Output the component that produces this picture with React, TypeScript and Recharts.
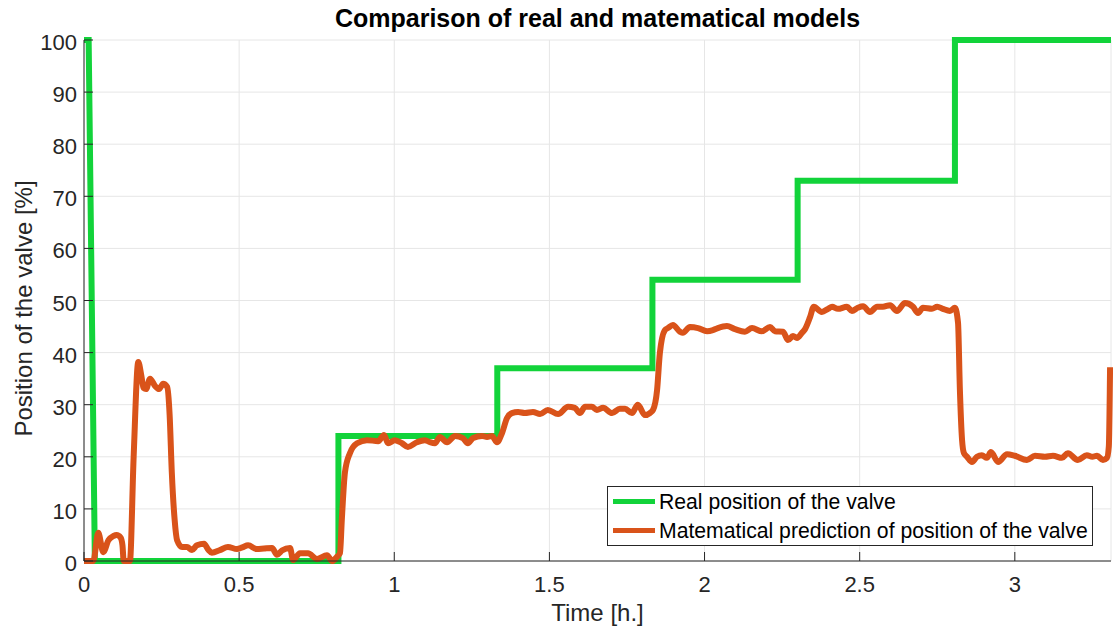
import { CartesianGrid, Legend, Line, LineChart, XAxis, YAxis } from 'recharts'

// Measured valve position (step profile), time in hours
const realTime = [0, 0.015, 0.035, 0.82, 0.82, 1.332, 1.332, 1.832, 1.832, 2.3, 2.3, 2.807, 2.807, 3.31]
const realPosition = [100, 100, 0, 0, 24, 24, 37, 37, 54, 54, 73, 73, 100, 100]

// Model output for the same run
const modelTime = [
  0, 0.03, 0.046, 0.062, 0.079, 0.095, 0.105, 0.118, 0.124, 0.128, 0.148, 0.16, 0.175, 0.185, 0.192, 0.2,
  0.213, 0.229, 0.242, 0.255, 0.268, 0.276, 0.283, 0.292, 0.3, 0.316, 0.332, 0.348, 0.364, 0.387, 0.4,
  0.412, 0.438, 0.464, 0.493, 0.51, 0.529, 0.557, 0.58, 0.606, 0.622, 0.638, 0.664, 0.674, 0.696, 0.722,
  0.751, 0.783, 0.8, 0.815, 0.825, 0.831, 0.841, 0.857, 0.88, 0.912, 0.948, 0.967, 0.98, 1.002, 1.025,
  1.044, 1.073, 1.099, 1.115, 1.131, 1.147, 1.17, 1.196, 1.221, 1.237, 1.254, 1.283, 1.299, 1.315, 1.331,
  1.347, 1.363, 1.379, 1.399, 1.421, 1.447, 1.47, 1.495, 1.528, 1.56, 1.582, 1.598, 1.615, 1.637, 1.653,
  1.673, 1.702, 1.727, 1.744, 1.766, 1.785, 1.808, 1.824, 1.834, 1.847, 1.856, 1.872, 1.882, 1.898, 1.921,
  1.93, 1.953, 1.979, 2.008, 2.027, 2.043, 2.072, 2.098, 2.13, 2.153, 2.185, 2.211, 2.227, 2.253, 2.269,
  2.285, 2.298, 2.314, 2.324, 2.34, 2.352, 2.378, 2.398, 2.411, 2.43, 2.459, 2.475, 2.494, 2.511, 2.533,
  2.556, 2.575, 2.598, 2.62, 2.646, 2.672, 2.688, 2.704, 2.733, 2.75, 2.768, 2.791, 2.807, 2.817, 2.823,
  2.83, 2.836, 2.846, 2.862, 2.878, 2.894, 2.91, 2.923, 2.946, 2.975, 3.0, 3.039, 3.065, 3.097, 3.123,
  3.152, 3.171, 3.203, 3.232, 3.25, 3.265, 3.284, 3.297, 3.303, 3.307,
]
const modelPosition = [
  0, 0, 5.4, 1.7, 4, 4.8, 5, 4.5, 3, 0, 0, 20, 38.2, 35.5, 33.2, 33,
  35, 33.6, 33, 34, 33.4, 28, 17, 8, 4, 2.7, 2.7, 2.1, 3, 3.3, 2.2,
  1.6, 2.1, 2.7, 2.3, 2.6, 3, 2.3, 2.4, 2.5, 1.2, 2, 2.5, 0.2, 1.5, 1.5,
  0.4, 1.1, 0, 0.8, 1.5, 8, 17, 20.7, 22.6, 23.2, 23, 24.2, 22.6, 23.2, 22.6,
  21.9, 22.8, 23.2, 22.8, 22.6, 23.8, 22.8, 24, 23.6, 22.6, 23.6, 24, 23.8, 24, 22.8,
  24.5, 27.4, 28.4, 28.6, 28.4, 28.6, 28.2, 29, 28.2, 29.6, 29.4, 28.4, 29.6, 29.6, 29,
  29.4, 28.4, 29.2, 29.2, 28.4, 30, 28, 28.4, 29, 32.8, 39.9, 44.3, 44.7, 45.3, 44,
  43.8, 44.9, 44.7, 44.1, 44.3, 44.7, 45.1, 44.5, 44, 44.7, 44.1, 44.9, 44.1, 44, 42.4,
  43.2, 42.8, 43.8, 44.5, 46.8, 48.8, 47.8, 48.4, 48.8, 48.4, 48.8, 48, 48.6, 48.9, 47.8,
  48.8, 48.8, 49.1, 48, 49.5, 48.8, 47.6, 48.6, 48.4, 48.8, 48.4, 48, 48.6, 45.7, 32.8,
  23.2, 20.7, 20, 19, 20, 20.3, 19.8, 20.9, 19, 20.5, 20.2, 19.4, 20.2, 20, 20.2,
  19.8, 20.7, 19.4, 20.3, 20, 20.2, 19.4, 19.8, 22, 37.2,
]

const timeTicks = [0, 0.5, 1, 1.5, 2, 2.5, 3]
const positionTicks = [0, 10, 20, 30, 40, 50, 60, 70, 80, 90, 100]
const timeDomain = [0, 3.31]

const REAL_NAME = 'Real position of the valve'
const MODEL_NAME = 'Matematical prediction of position of the valve'
const legendOrder = [REAL_NAME, MODEL_NAME]

const realSeries = realTime.map((t, i) => ({ t, v: realPosition[i] }))
const modelSeries = modelTime.map((t, i) => ({ t, v: modelPosition[i] }))

const AXIS = '#262626'
const TICK = 9
const FONT = '"Liberation Sans", Arial, Helvetica, sans-serif'

function BottomTick({ x, y, payload }: any) {
  return (
    <g>
      <line x1={x} y1={y} x2={x} y2={y - TICK} stroke={AXIS} />
      <text x={x} y={y + 31} textAnchor="middle" fill={AXIS} fontSize={22}>
        {payload.value}
      </text>
    </g>
  )
}

function LeftTick({ x, y, payload }: any) {
  return (
    <g>
      <line x1={x} y1={y} x2={x + TICK} y2={y} stroke={AXIS} />
      <text x={x - 7} y={y + 10} textAnchor="end" fill={AXIS} fontSize={22}>
        {payload.value}
      </text>
    </g>
  )
}

function TopTick({ x, y }: any) {
  return <line x1={x} y1={y} x2={x} y2={y + TICK} stroke={AXIS} />
}

function RightTick({ x, y }: any) {
  return <line x1={x} y1={y} x2={x - TICK} y2={y} stroke={AXIS} />
}

function ValveLegend({ payload }: any) {
  const items = [...(payload || [])].sort(
    (a: any, b: any) => legendOrder.indexOf(a.value) - legendOrder.indexOf(b.value),
  )
  return (
    <div
      style={{
        boxSizing: 'border-box',
        width: 486,
        height: 60,
        border: `1px solid ${AXIS}`,
        background: '#fff',
        padding: '0 0 0 5px',
        fontSize: 21.2,
        lineHeight: '29px',
        color: '#000',
        fontFamily: FONT,
        whiteSpace: 'nowrap',
      }}
    >
      {items.map((entry: any) => (
        <div key={entry.value} style={{ display: 'flex', alignItems: 'center' }}>
          <span style={{ width: 42, height: 5, background: entry.color, marginRight: 4, flex: 'none' }} />
          <span>{entry.value}</span>
        </div>
      ))}
    </div>
  )
}

export default function App() {
  return (
    <div
      style={{
        position: 'absolute',
        left: 0,
        top: 0,
        width: 1113,
        height: 629,
        background: '#fff',
        fontFamily: FONT,
      }}
    >
      <div
        style={{
          position: 'absolute',
          left: 84,
          width: 1027,
          top: 6,
          textAlign: 'center',
          fontSize: 25,
          lineHeight: '25px',
          fontWeight: 'bold',
          color: '#000',
        }}
      >
        Comparison of real and matematical models
      </div>
      <LineChart width={1113} height={629} margin={{ top: 40, right: 2, bottom: 0, left: 0 }}>
        <CartesianGrid stroke="#e6e6e6" strokeWidth={1} />
        <XAxis
          dataKey="t"
          type="number"
          domain={timeDomain}
          ticks={timeTicks}
          interval={0}
          height={68}
          stroke={AXIS}
          tickSize={0}
          tickMargin={0}
          tick={<BottomTick />}
          label={{
            content: ({ viewBox }: any) => (
              <text
                x={viewBox.x + viewBox.width / 2}
                y={viewBox.y + 60}
                textAnchor="middle"
                fill={AXIS}
                fontSize={24}
              >
                Time [h.]
              </text>
            ),
          }}
        />
        <XAxis
          xAxisId="top"
          orientation="top"
          dataKey="t"
          type="number"
          domain={timeDomain}
          ticks={timeTicks}
          interval={0}
          height={0}
          stroke={AXIS}
          tickSize={0}
          tickMargin={0}
          tick={<TopTick />}
        />
        <YAxis
          type="number"
          domain={[0, 100]}
          ticks={positionTicks}
          interval={0}
          width={84}
          stroke={AXIS}
          tickSize={0}
          tickMargin={0}
          tick={<LeftTick />}
          label={{
            content: ({ viewBox }: any) => {
              const cx = viewBox.x + 23
              const cy = viewBox.y + viewBox.height / 2 + 8
              return (
                <text
                  x={cx}
                  y={cy}
                  transform={`rotate(-90 ${cx} ${cy})`}
                  textAnchor="middle"
                  dominantBaseline="central"
                  fill={AXIS}
                  fontSize={24}
                >
                  Position of the valve [%]
                </text>
              )
            },
          }}
        />
        <YAxis
          yAxisId="right"
          orientation="right"
          type="number"
          domain={[0, 100]}
          ticks={positionTicks}
          interval={0}
          width={0}
          stroke={AXIS}
          tickSize={0}
          tickMargin={0}
          tick={<RightTick />}
        />
        <Legend
          layout="horizontal"
          verticalAlign="middle"
          align="center"
          content={<ValveLegend />}
          wrapperStyle={{ position: 'absolute', left: 607, top: 486, width: 'auto', height: 'auto' }}
        />
        <Line
          data={realSeries}
          dataKey="v"
          name={REAL_NAME}
          type="linear"
          stroke="#12d33a"
          strokeWidth={6}
          dot={false}
          activeDot={false}
          isAnimationActive={false}
        />
        <Line
          data={modelSeries}
          dataKey="v"
          name={MODEL_NAME}
          type="monotone"
          stroke="#d9531a"
          strokeWidth={6}
          strokeLinejoin="round"
          dot={false}
          activeDot={false}
          isAnimationActive={false}
        />
      </LineChart>
    </div>
  )
}
